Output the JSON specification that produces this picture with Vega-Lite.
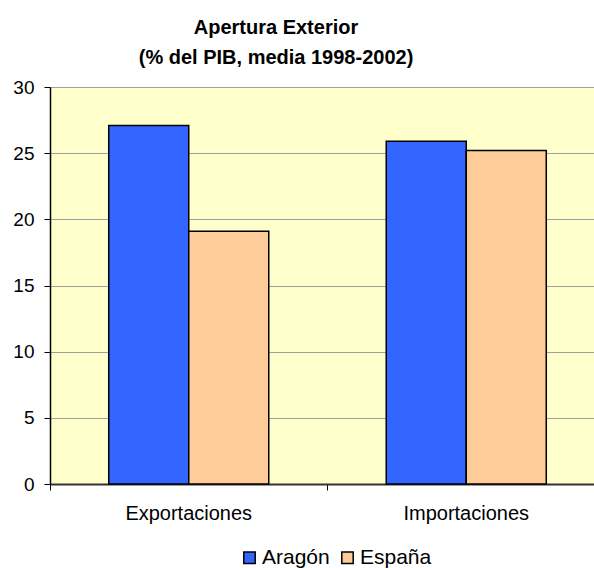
{
  "$schema": "https://vega.github.io/schema/vega-lite/v6.json",
  "width": 544,
  "height": 397,
  "autosize": {"type": "none"},
  "padding": {"left": 50, "top": 87, "right": 0, "bottom": 84},
  "background": "white",
  "config": {
    "font": "Liberation Sans",
    "view": {"fill": "#FFFFCC", "stroke": "#A0A0A0", "strokeWidth": 1}
  },
  "title": {
    "text": ["Apertura Exterior", "(% del PIB, media 1998-2002)"],
    "font": "Liberation Sans",
    "fontSize": 20,
    "fontWeight": "bold",
    "color": "black",
    "anchor": "middle",
    "frame": "group",
    "dx": -46,
    "offset": 10,
    "lineHeight": 30
  },
  "data": {
    "values": [
      {"categoria": "Exportaciones", "serie": "Aragón", "valor": 27.1},
      {"categoria": "Exportaciones", "serie": "España", "valor": 19.1},
      {"categoria": "Importaciones", "serie": "Aragón", "valor": 25.9},
      {"categoria": "Importaciones", "serie": "España", "valor": 25.2}
    ]
  },
  "mark": {"type": "bar", "stroke": "black", "strokeWidth": 1.5},
  "encoding": {
    "x": {
      "field": "categoria",
      "type": "nominal",
      "sort": ["Exportaciones", "Importaciones"],
      "scale": {"range": [0, 555], "paddingInner": 0, "paddingOuter": 0},
      "axis": {
        "title": null,
        "labelAngle": 0,
        "labelFontSize": 20,
        "labelColor": "black",
        "labelPadding": 13,
        "bandPosition": 0,
        "tickSize": 6,
        "tickColor": "black",
        "domainColor": "#333333",
        "domainWidth": 2,
        "grid": false
      }
    },
    "xOffset": {
      "field": "serie",
      "type": "nominal",
      "sort": ["Aragón", "España"],
      "scale": {"paddingInner": 0, "paddingOuter": 0.734}
    },
    "y": {
      "field": "valor",
      "type": "quantitative",
      "scale": {"domain": [0, 30], "nice": false},
      "axis": {
        "title": null,
        "values": [0, 5, 10, 15, 20, 25, 30],
        "labelFontSize": 19,
        "labelColor": "black",
        "labelPadding": 10,
        "tickSize": 6,
        "tickColor": "black",
        "domainColor": "black",
        "domainWidth": 1.5,
        "grid": true,
        "gridColor": "#A0A0A0",
        "gridWidth": 1
      }
    },
    "fill": {
      "field": "serie",
      "type": "nominal",
      "sort": ["Aragón", "España"],
      "scale": {"domain": ["Aragón", "España"], "range": ["#3366FF", "#FFCC99"]},
      "legend": {
        "title": null,
        "orient": "none",
        "direction": "horizontal",
        "legendX": 189,
        "legendY": 460,
        "symbolType": "square",
        "symbolSize": 130,
        "symbolStrokeColor": "black",
        "symbolStrokeWidth": 1.5,
        "labelFontSize": 21,
        "labelColor": "black",
        "labelOffset": 2,
        "columnPadding": 7,
        "padding": 0
      }
    }
  }
}
